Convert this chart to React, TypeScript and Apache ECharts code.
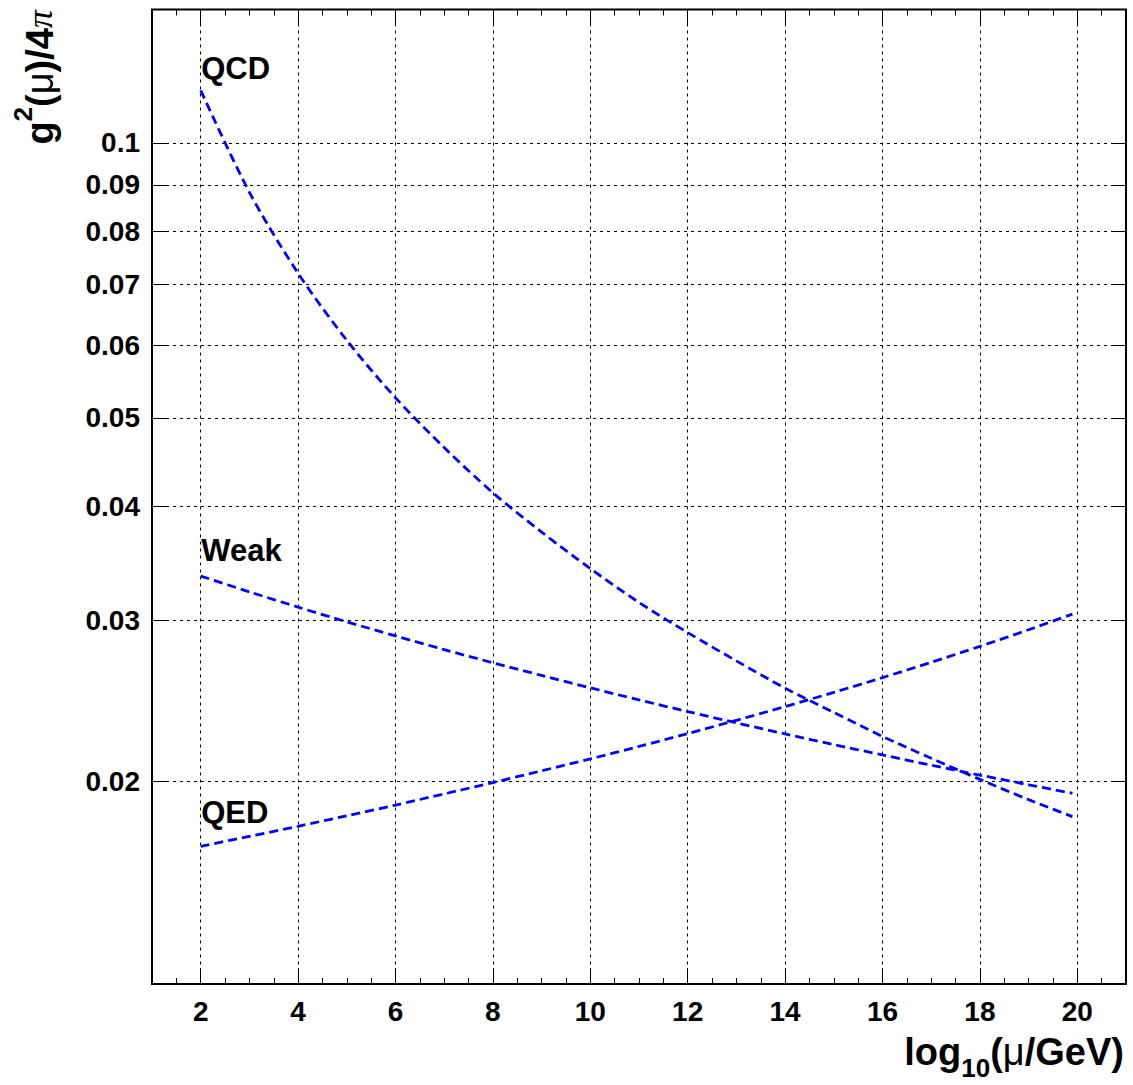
import React, { useEffect, useRef } from 'react';
import * as echarts from 'echarts';

// ---- data ----
const X = [2, 3, 4, 5, 6, 7, 8, 9, 10, 11, 12, 13, 14, 15, 16, 17, 18, 19, 19.9];
const QCD = [0.1142, 0.0883, 0.072, 0.0608, 0.0526, 0.0464, 0.0414, 0.0375, 0.0342, 0.0314, 0.0291, 0.0271, 0.0253, 0.0238, 0.0224, 0.0212, 0.0201, 0.0191, 0.0183];
const WEAK = [0.03356, 0.03225, 0.03103, 0.0299, 0.02886, 0.02788, 0.02697, 0.02612, 0.02532, 0.02456, 0.02385, 0.02318, 0.02254, 0.02194, 0.02138, 0.02083, 0.02032, 0.01983, 0.01941];
const QED = [0.01698, 0.01741, 0.01786, 0.01834, 0.01884, 0.01938, 0.01994, 0.02054, 0.02117, 0.02184, 0.02256, 0.02333, 0.02415, 0.02503, 0.02598, 0.027, 0.02811, 0.02931, 0.03049];
const SERIES_NAMES = ['QCD', 'Weak', 'QED'];
const LABEL_X = 2;
const LABEL_Y = [0.1207, 0.03583, 0.01851];
const Y_TICKS = [0.02, 0.03, 0.04, 0.05, 0.06, 0.07, 0.08, 0.09, 0.1];
const X_TICKS = [2, 4, 6, 8, 10, 12, 14, 16, 18, 20];
const X_MIN = 1;
const X_MAX = 21;
const Y_MIN = 0.012;
const Y_MAX = 0.14;

const FONT = '"Liberation Sans", Arial, Helvetica, sans-serif';

export default function App() {
  const ref = useRef<HTMLDivElement>(null);

  useEffect(() => {
    if (!ref.current) return;
    const chart = echarts.init(ref.current, undefined, { renderer: 'svg' });

    const minorX: number[] = [];
    for (let v = X_MIN + 0.5; v < X_MAX; v += 0.5) minorX.push(v);
    const yTickLog = Y_TICKS.map((v) => Math.log10(v));
    const yMinLog = Math.log10(Y_MIN);
    const yMaxLog = Math.log10(Y_MAX);

    const grid = { left: 152, top: 9.5, right: 7, bottom: 101 };
    const dotted = { type: [3, 4] as any, color: '#000', width: 1 };

    const baseX = (extra: any) => ({
      type: 'value',
      min: X_MIN,
      max: X_MAX,
      axisLine: { show: false, onZero: false },
      splitLine: { show: false },
      axisLabel: { show: false },
      ...extra,
    });
    const baseY = (extra: any) => ({
      type: 'value',
      min: yMinLog,
      max: yMaxLog,
      axisLine: { show: false, onZero: false },
      splitLine: { show: false },
      axisLabel: { show: false },
      ...extra,
    });

    const datasets = [QCD, WEAK, QED];

    const option: any = {
      animation: false,
      backgroundColor: '#fff',
      grid: { ...grid, show: true, borderColor: '#000', borderWidth: 2, backgroundColor: 'transparent' },
      xAxis: [
        baseX({
          position: 'bottom',
          axisTick: { show: true, inside: true, length: 16, customValues: X_TICKS, lineStyle: { color: '#000', width: 1 } },
          axisLabel: {
            show: true,
            customValues: X_TICKS,
            color: '#000',
            fontFamily: FONT,
            fontWeight: 'bold',
            fontSize: 28,
            margin: 13,
          },
          splitLine: { show: true, lineStyle: dotted },
        }),
        baseX({
          position: 'bottom',
          axisTick: { show: true, inside: true, length: 6, customValues: minorX, lineStyle: { color: '#000', width: 1 } },
        }),
        baseX({
          position: 'top',
          axisTick: { show: true, inside: true, length: 16, customValues: X_TICKS, lineStyle: { color: '#000', width: 1 } },
        }),
        baseX({
          position: 'top',
          axisTick: { show: true, inside: true, length: 6, customValues: minorX, lineStyle: { color: '#000', width: 1 } },
        }),
      ],
      yAxis: [
        { type: 'log', min: Y_MIN, max: Y_MAX, show: false, logBase: 10 },
        baseY({
          position: 'left',
          axisTick: { show: true, inside: true, length: 15, customValues: yTickLog, lineStyle: { color: '#000', width: 1 } },
          axisLabel: {
            show: true,
            customValues: yTickLog,
            color: '#000',
            fontFamily: FONT,
            fontWeight: 'bold',
            fontSize: 28,
            margin: 12,
            formatter: (v: number) => String(+Math.pow(10, v).toFixed(2)),
          },
          splitLine: { show: true, lineStyle: dotted },
        }),
        baseY({
          position: 'right',
          axisTick: { show: true, inside: true, length: 15, customValues: yTickLog, lineStyle: { color: '#000', width: 1 } },
        }),
      ],
      series: datasets.map((d, k) => ({
        name: SERIES_NAMES[k],
        type: 'line',
        xAxisIndex: 0,
        yAxisIndex: 0,
        data: X.map((x, i) => [x, d[i]]),
        showSymbol: false,
        symbol: 'none',
        smooth: 0.3,
        silent: true,
        lineStyle: { color: '#0000ff', width: 2.8, type: [9, 5] },
        markPoint: {
          silent: true,
          symbol: 'circle',
          symbolSize: 1,
          itemStyle: { color: 'rgba(0,0,0,0)' },
          label: {
            show: true,
            position: 'right',
            distance: 0,
            formatter: SERIES_NAMES[k],
            color: '#000',
            fontFamily: FONT,
            fontWeight: 'bold',
            fontSize: 31,
          },
          data: [{ coord: [LABEL_X, LABEL_Y[k]] }],
        },
      })),
      graphic: [
        {
          type: 'text',
          x: 9.8,
          y: 10,
          rotation: Math.PI / 2,
          silent: true,
          style: {
            text: '{m|g}{s|2}{m|(}{u|μ}{m|)/4}{p|π}',
            align: 'right',
            verticalAlign: 'top',
            fill: '#000',
            rich: {
              m: { fontFamily: FONT, fontWeight: 'bold', fontSize: 38, height: 38, verticalAlign: 'bottom', fill: '#000' },
              u: { fontFamily: FONT, fontWeight: 'normal', fontSize: 38, height: 38, verticalAlign: 'bottom', fill: '#000' },
              p: { fontFamily: '"Liberation Serif", serif', fontStyle: 'italic', fontWeight: 'normal', fontSize: 36, height: 38, verticalAlign: 'bottom', fill: '#000' },
              s: { fontFamily: FONT, fontWeight: 'bold', fontSize: 26, height: 26, lineHeight: 49, verticalAlign: 'top', fill: '#000' },
            },
          },
        },
        {
          type: 'text',
          x: 1124,
          y: 1033,
          silent: true,
          style: {
            text: '{m|log}{s|10}{m|(}{u|μ}{m|/GeV)}',
            align: 'right',
            verticalAlign: 'top',
            fill: '#000',
            rich: {
              m: { fontFamily: FONT, fontWeight: 'bold', fontSize: 38, height: 38, verticalAlign: 'top', fill: '#000' },
              u: { fontFamily: FONT, fontWeight: 'normal', fontSize: 38, height: 38, verticalAlign: 'top', fill: '#000' },
              s: { fontFamily: FONT, fontWeight: 'bold', fontSize: 26, height: 26, lineHeight: 48, verticalAlign: 'bottom', fill: '#000' },
            },
          },
        },
      ],
    };

    chart.setOption(option);
    return () => chart.dispose();
  }, []);

  return (
    <div
      ref={ref}
      style={{ position: 'absolute', left: 0, top: 0, width: 1133, height: 1085, background: '#fff' }}
    />
  );
}
